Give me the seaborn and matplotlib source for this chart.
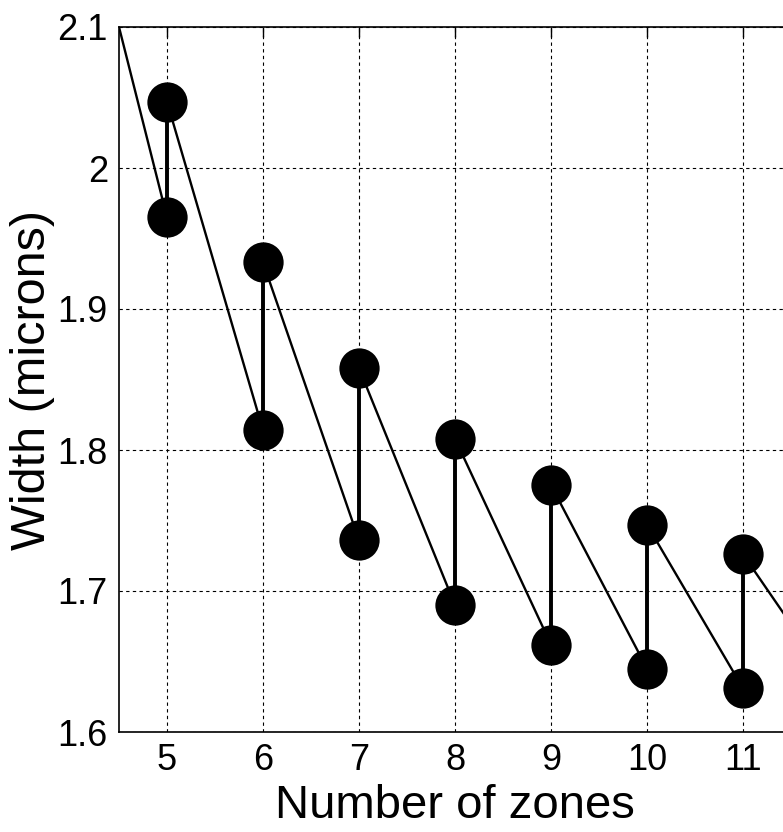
import matplotlib
matplotlib.use("Agg")
import matplotlib.pyplot as plt
import seaborn as sns
import pandas as pd

# Data
zones = [4, 5, 6, 7, 8, 9, 10, 11, 12]
upper = [2.235, 2.047, 1.933, 1.858, 1.808, 1.775, 1.747, 1.726, 1.710]
lower = [2.150, 1.965, 1.814, 1.736, 1.690, 1.662, 1.645, 1.631, 1.627]
xticks = [5, 6, 7, 8, 9, 10, 11]
yticks = [1.6, 1.7, 1.8, 1.9, 2.0, 2.1]
ytick_labels = ["1.6", "1.7", "1.8", "1.9", "2", "2.1"]

sns.set_theme(style="white")
plt.rcParams["font.family"] = ["Liberation Sans", "DejaVu Sans"]

# zig-zag path: upper(n) -> lower(n+1) -> upper(n+1) -> ...
path_x, path_y, order = [], [], []
k = 0
for i, z in enumerate(zones):
    if i > 0:
        path_x.append(z); path_y.append(lower[i]); order.append(k); k += 1
    path_x.append(z); path_y.append(upper[i]); order.append(k); k += 1
path = pd.DataFrame({"x": path_x, "y": path_y, "o": order})

pts = pd.DataFrame({"x": zones[1:] + zones[1:], "y": upper[1:] + lower[1:]})

fig = plt.figure(figsize=(7.83, 8.32), dpi=100)
ax = fig.add_axes([119 / 783, 100 / 832, 672 / 783, 705 / 832])

# diagonal path (thin)
sns.lineplot(data=path, x="x", y="y", sort=False, estimator=None, color="black",
             lw=1.7, ax=ax, zorder=3)
# vertical connectors (thicker)
ax.vlines(zones[1:], lower[1:], upper[1:], color="black", lw=2.8, zorder=3)
# markers
sns.scatterplot(data=pts, x="x", y="y", s=29 ** 2, color="black", edgecolor="black",
                linewidth=0, ax=ax, zorder=4, legend=False)

ax.set_xlim(4.5, 11.5)
ax.set_ylim(1.6, 2.1)
ax.set_xticks(xticks)
ax.set_xticklabels([str(t) for t in xticks], fontsize=26)
ax.set_yticks(yticks)
ax.set_yticklabels(ytick_labels, fontsize=26)
ax.tick_params(direction="in", length=7, color="black", width=1, pad=8,
               labelcolor="black", top=True)
ax.grid(True, color="black", linestyle=(0, (3, 3)), lw=0.8)
for s in ax.spines.values():
    s.set_visible(True)
    s.set_color("black")
    s.set_linewidth(1.2)
ax.set_xlabel("Number of zones", fontsize=34, color="black", labelpad=4)
ax.set_ylabel("Width (microns)", fontsize=35, color="black", labelpad=2)
ax.set_facecolor("white")
fig.patch.set_facecolor("white")

fig.savefig("out.png", dpi=100)
